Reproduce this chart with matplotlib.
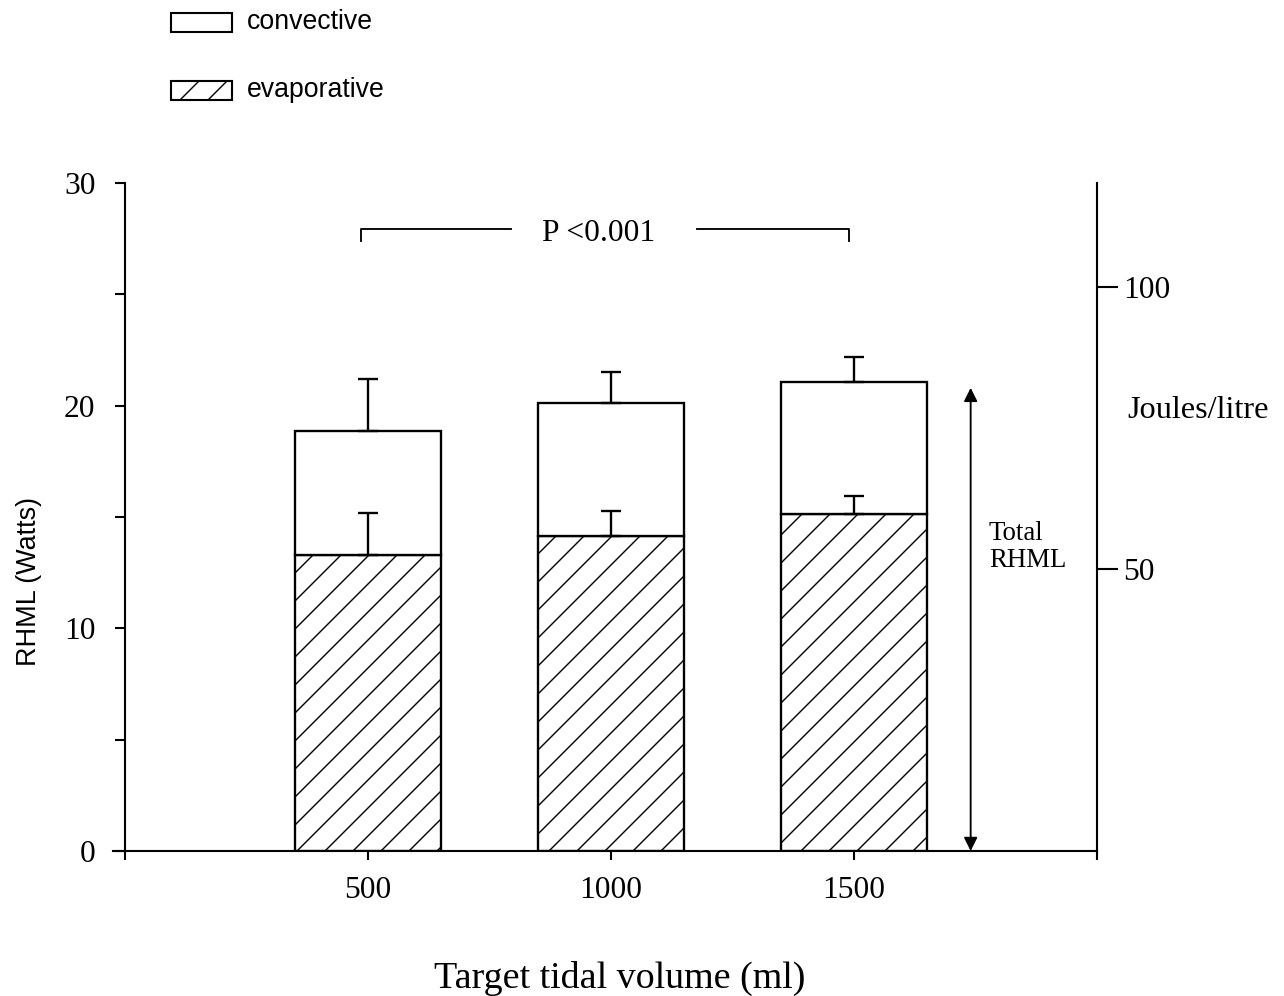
"""Stacked bar chart: respiratory heat and moisture loss vs target tidal volume."""
import matplotlib
matplotlib.use("Agg")
import matplotlib.pyplot as plt
from matplotlib.patches import Rectangle
import numpy as np

DPI = 168
plt.rcParams["hatch.linewidth"] = 0.6
SERIF = "Liberation Serif"
SANS = "Liberation Sans"

# data
tidal_labels = ["500", "1000", "1500"]
evaporative = [13.29, 14.16, 15.13]
evaporative_err = [1.90, 1.12, 0.82]
convective = [5.58, 5.94, 5.94]
total_err = [2.35, 1.42, 1.13]
left_ticks = [0, 5, 10, 15, 20, 25, 30]
right_ticks = [50, 100]
joules_per_watt = 3.948

x = np.arange(1, len(tidal_labels) + 1)
total = np.array(evaporative) + np.array(convective)

fig = plt.figure(figsize=(1284 / DPI, 996 / DPI), dpi=DPI)
fig.patch.set_facecolor("white")
ax = fig.add_axes([113 / 1284, 1 - 851 / 996, 984 / 1284, 668 / 996])

ax.bar(x, evaporative, width=0.6, color="white", edgecolor="black",
       linewidth=1.0, hatch="//", zorder=2)
ax.bar(x, convective, width=0.6, bottom=evaporative, color="white",
       edgecolor="black", linewidth=1.0, zorder=2)
ax.errorbar(x, evaporative, yerr=[np.zeros(3), evaporative_err], fmt="none",
            ecolor="black", elinewidth=1.0, capsize=4.3, capthick=1.0, zorder=3)
ax.errorbar(x, total, yerr=[np.zeros(3), total_err], fmt="none",
            ecolor="black", elinewidth=1.0, capsize=4.3, capthick=1.0, zorder=3)

ax.set_xlim(-0.05, 4.0)
ax.set_ylim(0, 30)
ax.spines["left"].set_position(("data", 0))
ax.spines["top"].set_visible(False)
ax.spines["right"].set_visible(False)
for s in ("left", "bottom"):
    ax.spines[s].set_linewidth(0.9)

ax.set_xticks([0, 1, 2, 3, 4])
ax.set_xticklabels([""] + tidal_labels + [""], fontfamily=SERIF, fontsize=13.5)
ax.tick_params(axis="x", direction="out", length=3.9, width=0.9, pad=7)
ax.set_yticks(left_ticks)
ax.set_yticklabels([str(t) if t % 10 == 0 else "" for t in left_ticks],
                   fontfamily=SERIF, fontsize=13.5)
ax.tick_params(axis="y", direction="out", length=4.3, width=0.9, pad=8.4)

# right axis in Joules/litre
ax2 = ax.twinx()
ax2.set_ylim(0, 30 * joules_per_watt)
for s in ("left", "top", "bottom"):
    ax2.spines[s].set_visible(False)
ax2.spines["right"].set_linewidth(0.9)
ax2.set_yticks(right_ticks)
ax2.set_yticklabels([str(t) for t in right_ticks], fontfamily=SERIF, fontsize=13.5)
ax2.tick_params(axis="y", direction="out", length=9, width=0.9, pad=2.2)

# significance bracket
ax.plot([0.97, 0.97, 1.59], [27.4, 27.93, 27.93], color="black", lw=0.8)
ax.plot([2.355, 2.98, 2.98], [27.93, 27.93, 27.4], color="black", lw=0.8)
ax.text(1.95, 27.75, "P <0.001", ha="center", va="center",
        fontfamily=SERIF, fontsize=13.5)

# total RHML double arrow
ax.annotate("", xy=(3.48, 0), xytext=(3.48, 20.8),
            arrowprops=dict(arrowstyle="<|-|>", color="black", lw=0.8,
                            mutation_scale=12, shrinkA=0, shrinkB=0))
ax.text(3.555, 13.65, "Total\nRHML", ha="left", va="center",
        fontfamily=SERIF, fontsize=11.5, linespacing=1.1)

# axis labels
fig.text(29 / 1284, 1 - 581 / 996, "RHML (Watts)", rotation=90,
         ha="center", va="center", fontfamily=SANS, fontsize=11.6)
fig.text(620 / 1284, 1 - 978 / 996, "Target tidal volume (ml)",
         ha="center", va="center", fontfamily=SERIF, fontsize=16.3)
fig.text(1127 / 1284, 1 - 410 / 996, "Joules/litre", ha="left", va="center",
         fontfamily=SERIF, fontsize=13.8)

# legend drawn by hand
fig.add_artist(Rectangle((171 / 1284, 1 - 32 / 996), 61 / 1284, 19 / 996,
                         transform=fig.transFigure, facecolor="white",
                         edgecolor="black", linewidth=0.9))
fig.add_artist(Rectangle((171 / 1284, 1 - 100 / 996), 61 / 1284, 19 / 996,
                         transform=fig.transFigure, facecolor="white",
                         edgecolor="black", linewidth=0.9, hatch="//"))
fig.text(247 / 1284, 1 - 22 / 996, "convective", ha="left", va="center",
         fontfamily=SANS, fontsize=11.4)
fig.text(247 / 1284, 1 - 90 / 996, "evaporative", ha="left", va="center",
         fontfamily=SANS, fontsize=11.4)

fig.savefig("out.png", dpi=DPI, facecolor="white")
